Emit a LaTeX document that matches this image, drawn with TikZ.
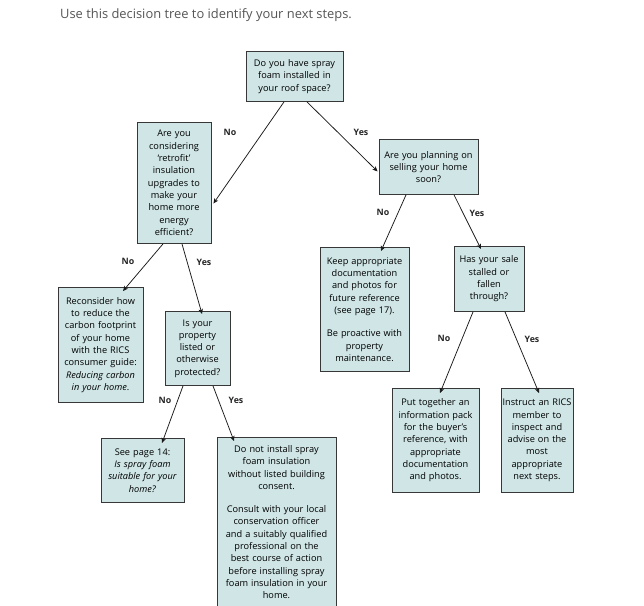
\documentclass[tikz,border=0pt]{standalone}
\usepackage{fontspec}
\setmainfont{Open Sans}
\usetikzlibrary{arrows.meta}

\definecolor{boxfill}{RGB}{207,229,230}
\definecolor{boxline}{RGB}{55,55,55}
\definecolor{titlegray}{RGB}{85,85,85}

\tikzset{every picture/.style={line width=0.75pt}}
\tikzset{
  qbox/.style={draw=boxline, line width=0.9pt, fill=boxfill, align=center,
    inner xsep=1.5pt, inner ysep=4pt, anchor=north,
    font=\fontsize{9.2}{12.3}\selectfont, text=black},
  yn/.style={font=\fontsize{8.8}{11}\selectfont\bfseries, text=black!85, inner sep=0.75pt},
  branch/.style={draw=black!90, line width=0.75pt, -{Stealth[length=5pt,width=4.5pt,inset=1.2pt]}}
}

\begin{document}
\begin{tikzpicture}[x=1pt,y=1pt,yscale=-1,xscale=1]
\useasboundingbox (0,0) rectangle (644,605);
\clip (0,0) rectangle (644,605);

% Title
\node (title) at (206,15) [font=\fontsize{12.9}{15}\selectfont, text=titlegray, inner sep=0pt] {Use this decision tree to identify your next steps.};

% Shape: Rectangle [spray foam]
\node (spray) at (294.5,51) [qbox, text width=94, minimum height=50] {Do you have spray\\foam installed in\\your roof space?};
% Shape: Rectangle [retrofit]
\node (retrofit) at (174,122) [qbox, text width=71, minimum height=121] {Are you\\considering\\‘retrofit’\\insulation\\upgrades to\\make your\\home more\\energy\\efficient?};
% Shape: Rectangle [selling]
\node (selling) at (428.5,139) [qbox, text width=96, minimum height=55] {Are you planning on\\selling your home\\soon?};
% Shape: Rectangle [keep docs]
\node (keepdocs) at (364.5,247) [qbox, text width=86, minimum height=124] {Keep appropriate\\documentation\\and photos for\\future reference\\(see page 17).\\[11pt]Be proactive with\\property\\maintenance.};
% Shape: Rectangle [stalled]
\node (stalled) at (489,246) [qbox, text width=67, minimum height=65] {Has your sale\\stalled or\\fallen\\through?};
% Shape: Rectangle [reconsider]
\node (reconsider) at (100.5,287) [qbox, text width=82, minimum height=115] {Reconsider how\\to reduce the\\carbon footprint\\of your home\\with the RICS\\consumer guide:\\\textit{Reducing carbon}\\\textit{in your home}.};
% Shape: Rectangle [listed]
\node (listed) at (197.5,311) [qbox, text width=62, minimum height=74] {Is your\\property\\listed or\\otherwise\\protected?};
% Shape: Rectangle [info pack]
\node (infopack) at (435.5,388) [qbox, text width=84, minimum height=104] {Put together an\\information pack\\for the buyer’s\\reference, with\\appropriate\\documentation\\and photos.};
% Shape: Rectangle [instruct]
\node (instruct) at (537,388) [qbox, text width=69, minimum height=104] {Instruct an RICS\\member to\\inspect and\\advise on the\\most\\appropriate\\next steps.};
% Shape: Rectangle [page 14]
\node (pagefourteen) at (142.5,438) [qbox, text width=80, minimum height=64] {See page 14:\\\textit{Is spray foam}\\\textit{suitable for your}\\\textit{home?}};
% Shape: Rectangle [consent]
\node (consent) at (276.5,437) [qbox, text width=116, inner ysep=8pt] {Do not install spray\\foam insulation\\without listed building\\consent.\\[11pt]Consult with your local\\conservation officer\\and a suitably qualified\\professional on the\\best course of action\\before installing spray\\foam insulation in your\\home.\\[12pt]};

%Straight Lines [branches]
\draw [branch] ([xshift=-10.5pt]spray.south) -- ([xshift=2pt,yshift=20.5pt]retrofit.east);
\draw [branch] ([xshift=12.5pt]spray.south) -- ([xshift=-1pt,yshift=4.5pt]selling.west);
\draw [branch] ([xshift=-22.5pt]selling.south) -- ([xshift=16.5pt,yshift=4pt]keepdocs.north);
\draw [branch] ([xshift=25.5pt]selling.south) -- ([xshift=-8pt,yshift=3pt]stalled.north);
\draw [branch] ([xshift=-11pt]retrofit.south) -- ([xshift=22.5pt,yshift=4pt]reconsider.north);
\draw [branch] ([xshift=8pt]retrofit.south) -- ([xshift=4.5pt,yshift=3pt]listed.north);
\draw [branch] ([xshift=-14.5pt]listed.south) -- ([xshift=19.5pt,yshift=5pt]pagefourteen.north);
\draw [branch] ([xshift=15.5pt]listed.south) -- ([xshift=-42.5pt,yshift=4pt]consent.north);
\draw [branch] ([xshift=-16pt]stalled.south) -- ([xshift=4.5pt,yshift=5pt]infopack.north);
\draw [branch] ([xshift=16pt]stalled.south) -- ([xshift=2pt,yshift=5pt]instruct.north);

% Text Node [answers]
\node (noA) at (230,132) [yn] {No};
\node (yesA) at (361,132) [yn] {Yes};
\node (noB) at (383,212) [yn] {No};
\node (yesB) at (477,213) [yn] {Yes};
\node (noC) at (128,261) [yn] {No};
\node (yesC) at (204,262) [yn] {Yes};
\node (noD) at (165,400) [yn] {No};
\node (yesD) at (236,400) [yn] {Yes};
\node (noE) at (444,338) [yn] {No};
\node (yesE) at (532,339) [yn] {Yes};

\end{tikzpicture}
\end{document}
